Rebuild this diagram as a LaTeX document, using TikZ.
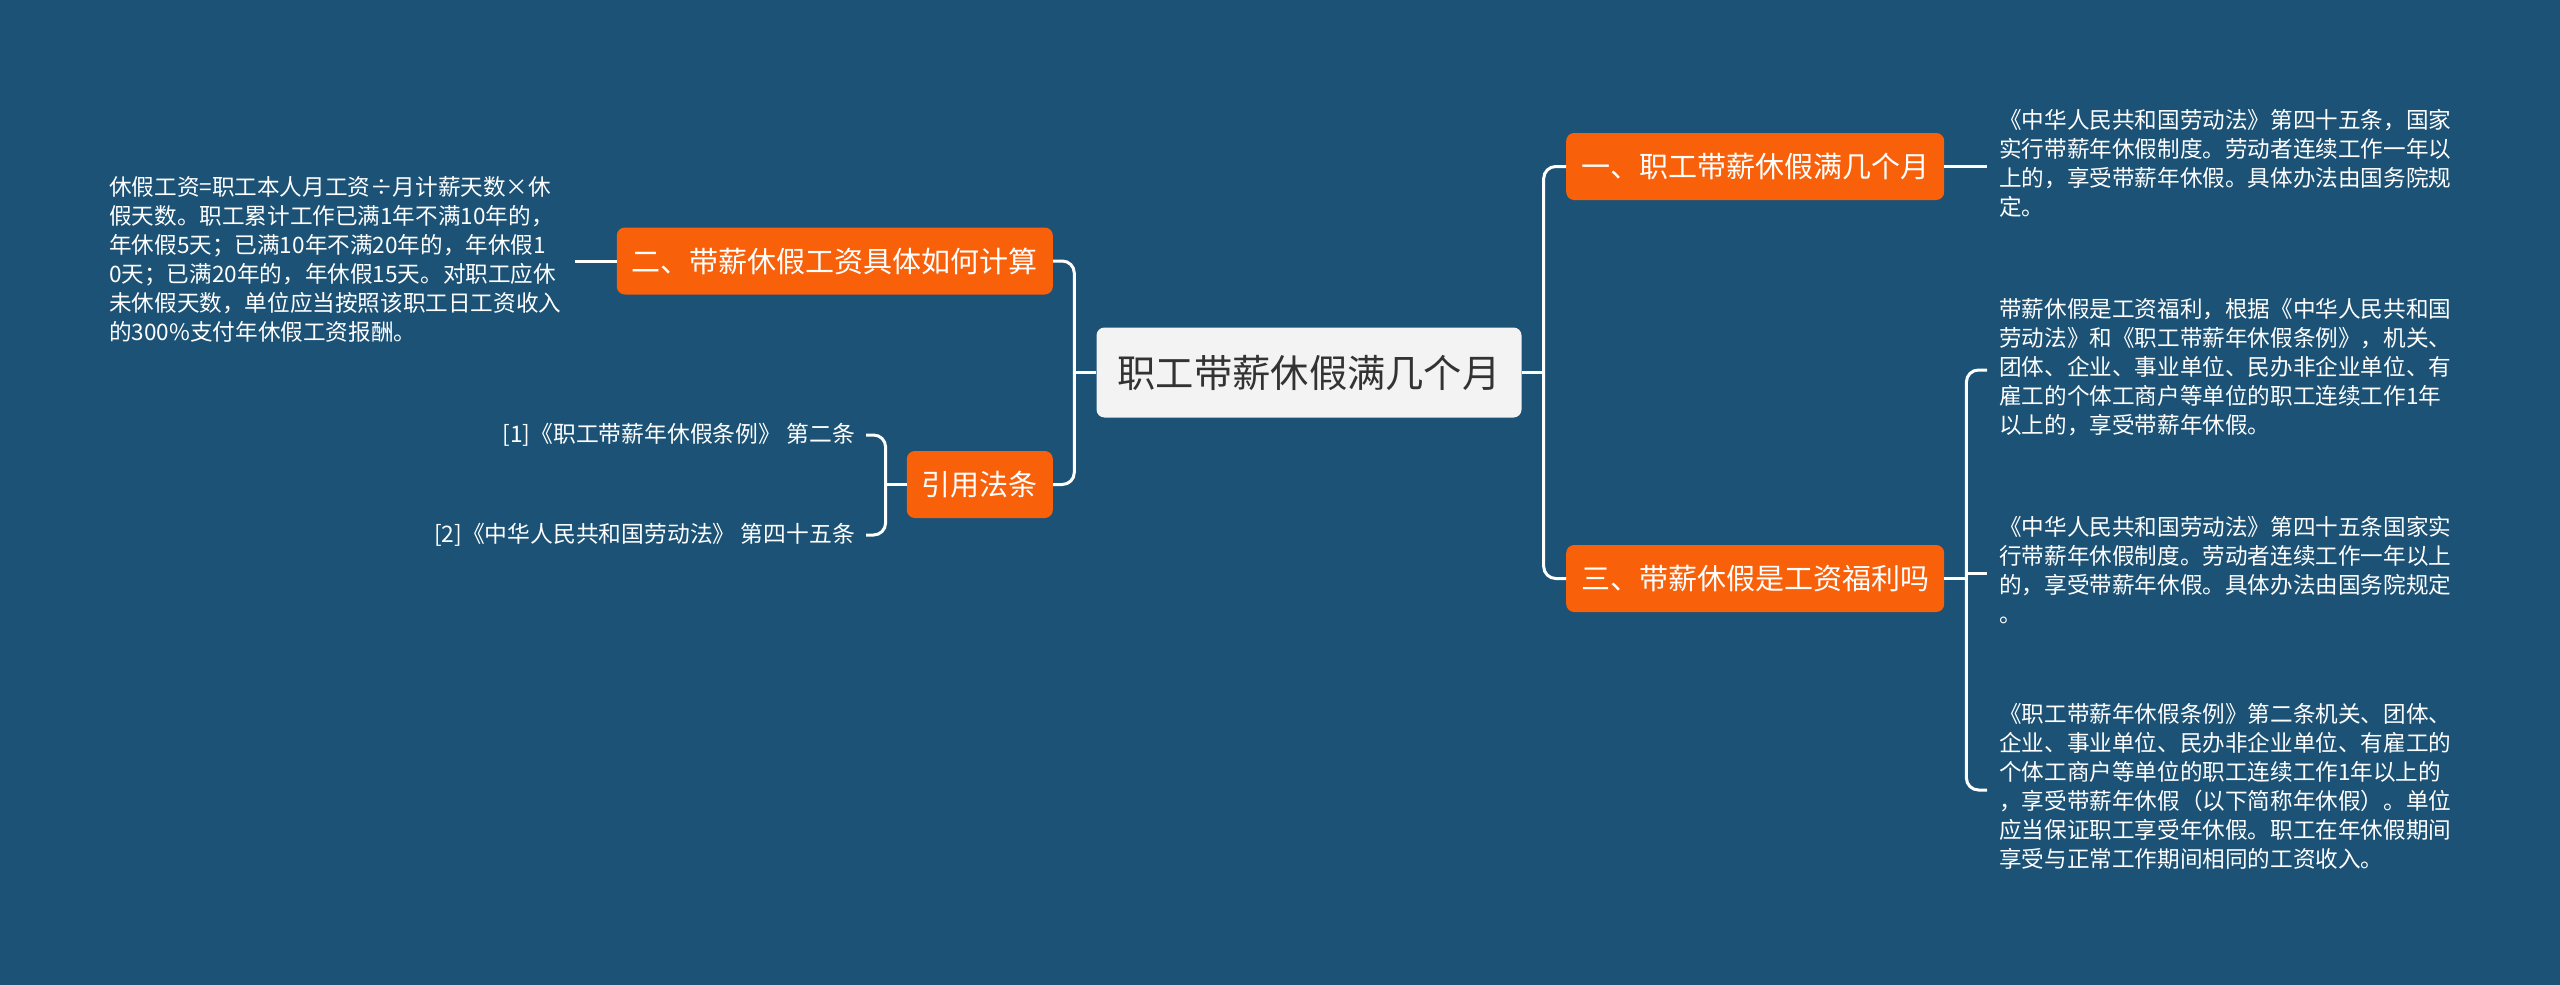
\documentclass[tikz,border=0pt]{standalone}
\usepackage{fontspec}
\newfontfamily\cjk{Noto Sans CJK SC}
\usetikzlibrary{calc}
\definecolor{bgc}{RGB}{27,82,118}
\definecolor{org}{RGB}{249,96,10}
\definecolor{cen}{RGB}{243,243,243}
\definecolor{ctext}{RGB}{51,51,51}
\begin{document}
\begin{tikzpicture}[x=1pt,y=-1pt,
  conn/.style={draw=white, line width=3pt, rounded corners=12pt},
  rootbox/.style={fill=cen, text=ctext, rounded corners=8pt, font=\cjk\fontsize{38.3}{44}\selectfont, inner xsep=21pt, inner ysep=0pt, minimum height=90pt},
  branch/.style={fill=org, text=white, rounded corners=8pt, font=\cjk\fontsize{29}{34}\selectfont, inner xsep=15pt, inner ysep=0pt, minimum height=67pt},
  leaf/.style={text=white, font=\cjk\fontsize{22.6}{29}\selectfont, align=left, inner sep=0pt, execute at begin node=\strut, execute at end node=\strut},
  ref/.style={text=white, font=\cjk\fontsize{22.8}{29}\selectfont, inner sep=0pt}
]
\fill[bgc] (0,0) rectangle (2560,985);

\node[rootbox] (c) at (1309,372.5) {职工带薪休假满几个月};
\node[branch, anchor=west] (b1) at (1566,166.5) {一、职工带薪休假满几个月};
\node[branch, anchor=west] (b3) at (1566,578.5) {三、带薪休假是工资福利吗};
\node[branch, anchor=east] (b2) at (1053,261) {二、带薪休假工资具体如何计算};
\node[branch, anchor=east] (b4) at (1053,484.5) {引用法条};

\node[leaf, anchor=west] (l1) at (1999,166.5) {《中华人民共和国劳动法》第四十五条，国家\\实行带薪年休假制度。劳动者连续工作一年以\\上的，享受带薪年休假。具体办法由国务院规\\定。};
\node[leaf, anchor=west] (l2a) at (1999,370) {带薪休假是工资福利，根据《中华人民共和国\\劳动法》和《职工带薪年休假条例》，机关、\\团体、企业、事业单位、民办非企业单位、有\\雇工的个体工商户等单位的职工连续工作1年\\以上的，享受带薪年休假。};
\node[leaf, anchor=west] (l2b) at (1999,573.5) {《中华人民共和国劳动法》第四十五条国家实\\行带薪年休假制度。劳动者连续工作一年以上\\的，享受带薪年休假。具体办法由国务院规定\\。};
\node[leaf, anchor=west] (l2c) at (1999,790) {《职工带薪年休假条例》第二条机关、团体、\\企业、事业单位、民办非企业单位、有雇工的\\个体工商户等单位的职工连续工作1年以上的\\，享受带薪年休假（以下简称年休假）。单位\\应当保证职工享受年休假。职工在年休假期间\\享受与正常工作期间相同的工资收入。};
\node[leaf, anchor=west] (l3) at (109,262.5) {休假工资=职工本人月工资÷月计薪天数×休\\假天数。职工累计工作已满1年不满10年的，\\年休假5天；已满10年不满20年的，年休假1\\0天；已满20年的，年休假15天。对职工应休\\未休假天数，单位应当按照该职工日工资收入\\的300\%支付年休假工资报酬。};
\node[ref, anchor=east] (r1) at (855,435) {[1]《职工带薪年休假条例》 第二条};
\node[ref, anchor=east] (r2) at (855,535) {[2]《中华人民共和国劳动法》 第四十五条};

% connectors
\draw[conn] (b1.west) -| ($(c.east)+(22,0)$) |- (b3.west);
\draw[conn] (c.east) -- ++(22,0);
\draw[conn] (b2.east) -| ($(c.west)+(-22,0)$) |- (b4.east);
\draw[conn] (c.west) -- ++(-22,0);
\draw[conn] (b1.east) -- ([xshift=-12pt]l1.west);
\draw[conn] ([xshift=-12pt]l2a.west) -| ($(b3.east)+(22,0)$) |- ([xshift=-12pt]l2c.west);
\draw[conn] (b3.east) -- ++(22,0);
\draw[conn] ($(b3.east)+(22,-5)$) -- ([xshift=-12pt]l2b.west);
\draw[conn] (b2.west) -- ++(-42,0);
\draw[conn] ([xshift=11pt]r1.east) -| ($(b4.west)+(-21,0)$) |- ([xshift=11pt]r2.east);
\draw[conn] (b4.west) -- ++(-21,0);
\end{tikzpicture}
\end{document}
